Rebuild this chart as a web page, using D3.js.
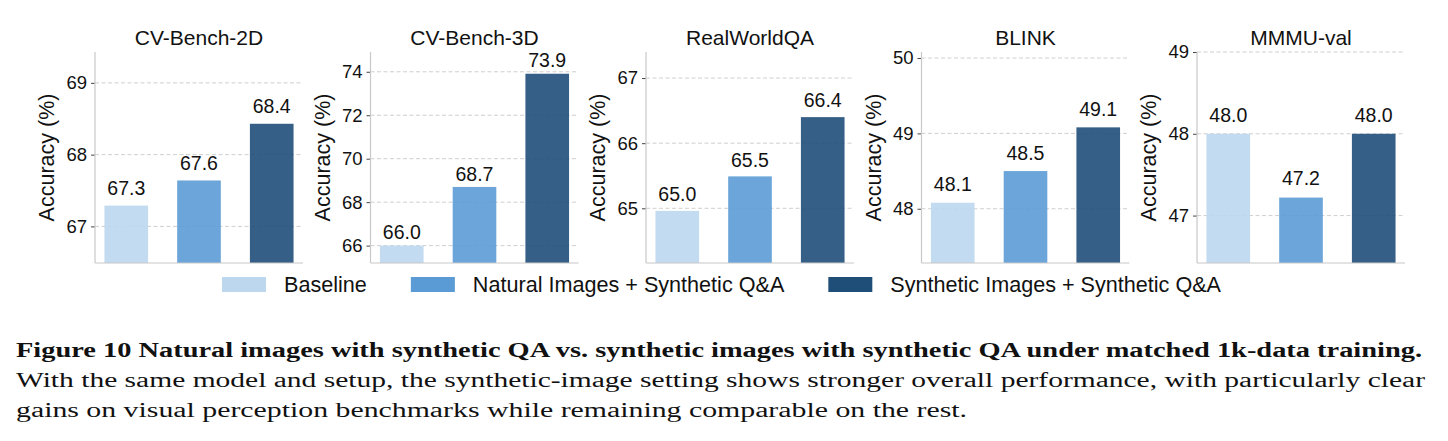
<!DOCTYPE html>
<html>
<head>
<meta charset="utf-8">
<script src="https://cdn.jsdelivr.net/npm/d3@7"></script>
<style>
  html, body { margin: 0; padding: 0; background: #fff; }
  svg { display: block; }
</style>
</head>
<body>
<script>
// ---------- data ----------
const benchmarks = ["CV-Bench-2D", "CV-Bench-3D", "RealWorldQA", "BLINK", "MMMU-val"];
const seriesNames = ["Baseline", "Natural Images + Synthetic Q&A", "Synthetic Images + Synthetic Q&A"];
const baselineVals = [67.29, 66.0, 64.96, 48.08, 48.0];
const naturalVals = [67.64, 68.7, 65.49, 48.5, 47.22];
const syntheticVals = [68.43, 73.91, 66.4, 49.08, 48.0];
const yTickVals = [[67, 68, 69], [66, 68, 70, 72, 74], [65, 66, 67], [48, 49, 50], [47, 48, 49]];
const yLabel = "Accuracy (%)";
const captionLines = [
  "Figure 10 Natural images with synthetic QA vs. synthetic images with synthetic QA under matched 1k-data training.",
  "With the same model and setup, the synthetic-image setting shows stronger overall performance, with particularly clear",
  "gains on visual perception benchmarks while remaining comparable on the rest."
];

// ---------- style ----------
const colors = ["#bdd7ee", "#5b9bd5", "#1f4e79"];
const W = 1448, H = 441;
const sans = "'Liberation Sans', Arial, Helvetica, sans-serif";
const serif = "'Liberation Serif', 'Times New Roman', serif";

const svg = d3.select("body").append("svg")
  .attr("width", W).attr("height", H)
  .style("background", "#fff");

const plotTop = 52, plotBottom = 263, plotW = 208;
const panelLeft0 = 95, panelStep = 275.5;
const series = [baselineVals, naturalVals, syntheticVals];

benchmarks.forEach((name, p) => {
  const vals = series.map(s => s[p]);
  const lo = d3.min(vals) - 0.8, hi = d3.max(vals) + 1.0;
  const left = panelLeft0 + p * panelStep;
  const g = svg.append("g").attr("transform", `translate(${left},0)`);

  const x = d3.scaleLinear().domain([-0.43, 2.43]).range([0, plotW]);
  const y = d3.scaleLinear().domain([lo, hi]).range([plotBottom, plotTop]);

  // gridlines
  g.append("g").selectAll("line").data(yTickVals[p]).join("line")
    .attr("x1", 0).attr("x2", plotW)
    .attr("y1", d => y(d)).attr("y2", d => y(d))
    .attr("stroke", "#cfcfcf").attr("stroke-width", 1)
    .attr("stroke-dasharray", "4,2.5");

  // bars
  g.append("g").selectAll("rect").data(vals).join("rect")
    .attr("x", (d, i) => x(i - 0.3))
    .attr("width", x(0.3) - x(-0.3))
    .attr("y", d => y(d))
    .attr("height", d => plotBottom - y(d))
    .attr("fill", (d, i) => colors[i])
    .attr("fill-opacity", 0.9);

  // value labels
  const off = Math.max(0.15, 0.03 * (hi - lo));
  g.append("g").selectAll("text").data(vals).join("text")
    .attr("x", (d, i) => x(i))
    .attr("y", d => y(d + off))
    .attr("text-anchor", "middle")
    .attr("font-family", sans).attr("font-size", 19.5)
    .attr("fill", "#111")
    .text(d => d3.format(".1f")(d));

  // y axis
  const yAxis = d3.axisLeft(y).tickValues(yTickVals[p]).tickSize(4).tickPadding(4)
    .tickFormat(d3.format("d"));
  const ag = g.append("g").call(yAxis);
  ag.select(".domain").remove();
  ag.selectAll(".tick line").attr("stroke", "#444").attr("stroke-width", 1);
  ag.selectAll(".tick text").attr("font-family", sans).attr("font-size", 18.5).attr("fill", "#111");

  // spines
  g.append("line").attr("x1", 0).attr("x2", 0).attr("y1", plotTop).attr("y2", plotBottom)
    .attr("stroke", "#c8c8c8").attr("stroke-width", 1.2);
  g.append("line").attr("x1", 0).attr("x2", plotW).attr("y1", plotBottom).attr("y2", plotBottom)
    .attr("stroke", "#c8c8c8").attr("stroke-width", 1.2);

  // title
  g.append("text").attr("x", plotW / 2).attr("y", 45)
    .attr("text-anchor", "middle")
    .attr("font-family", sans).attr("font-size", 21).attr("fill", "#111")
    .text(name);

  // y label
  g.append("text")
    .attr("transform", `translate(-41,${(plotTop + plotBottom) / 2}) rotate(-90)`)
    .attr("text-anchor", "middle")
    .attr("font-family", sans).attr("font-size", 21.5).attr("fill", "#111")
    .text(yLabel);
});

// ---------- legend ----------
const lg = svg.append("g");
let cx = 0;
seriesNames.forEach((n, i) => {
  const it = lg.append("g").attr("transform", `translate(${cx},0)`);
  it.append("rect").attr("x", 0).attr("y", 277).attr("width", 44).attr("height", 15)
    .attr("fill", colors[i]);
  const t = it.append("text").attr("x", 62).attr("y", 292)
    .attr("font-family", sans).attr("font-size", 21.6).attr("fill", "#111").text(n);
  const tw = t.node().getComputedTextLength();
  cx += 62 + tw + (i < seriesNames.length - 1 ? 44 : 0);
});
lg.attr("transform", `translate(${721.5 - cx / 2},0)`);

// ---------- caption ----------
const capX = 16;
const capY = [357, 387, 417];
const capLen = [1406, 1409, 951];
captionLines.forEach((line, i) => {
  svg.append("text").attr("x", capX).attr("y", capY[i])
    .attr("font-family", serif).attr("font-size", 20)
    .attr("font-weight", i === 0 ? "bold" : "normal")
    .attr("fill", "#111")
    .attr("textLength", capLen[i]).attr("lengthAdjust", "spacingAndGlyphs")
    .text(line);
});
</script>
</body>
</html>
